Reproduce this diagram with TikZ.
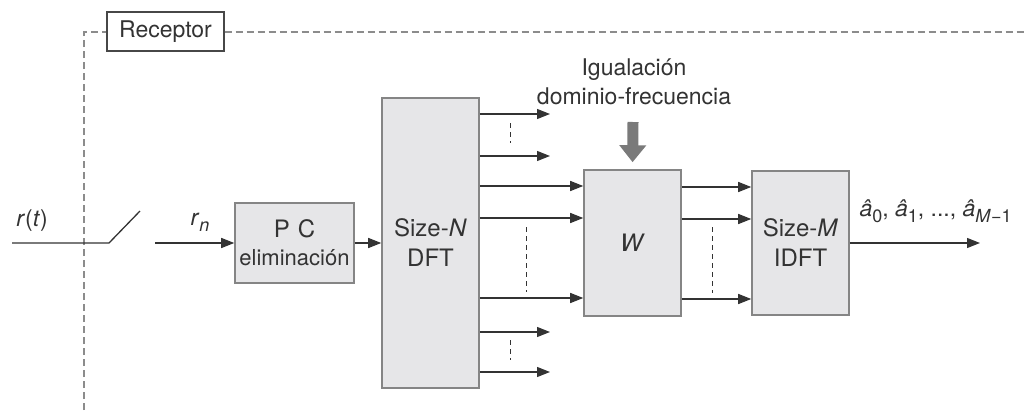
\documentclass[tikz,border=0pt]{standalone}
\usepackage{fontspec}
\setmainfont{TeX Gyre Heros}
\usetikzlibrary{arrows.meta,positioning,calc}
\definecolor{rxink}{HTML}{333333}
\definecolor{rxedge}{HTML}{858585}
\definecolor{rxfill}{HTML}{E6E6E8}
\definecolor{rxgray}{HTML}{7A7A7A}
\definecolor{rxdash}{HTML}{8C8C8C}
\newcommand{\lowidx}[1]{\raisebox{-6pt}{\fontsize{18}{20}\selectfont #1}}

\tikzset{
  blockbox/.style={draw=rxedge, fill=rxfill, line width=1.6pt, inner sep=0pt, align=center,
    font=\fontsize{24}{30}\selectfont, text=rxink},
  sig/.style={draw=rxink, line width=1.3pt, -{Triangle[length=13pt,width=10pt]}},
  wire/.style={draw=rxink, line width=1.3pt},
  gap/.style={draw=rxink, line width=0.9pt, dash pattern=on 5pt off 4pt},
  frame/.style={draw=rxdash, line width=1.3pt, dash pattern=on 7pt off 4pt}
}

\begin{document}
\begin{tikzpicture}[x=1pt, y=-1pt, font=\fontsize{23}{28}\selectfont, text=rxink]
  \useasboundingbox[fill=white] (0,0) rectangle (1030,410);

  % receiver frame
  \node[draw=rxink!90, line width=1.3pt, fill=white, minimum width=117pt, minimum height=39pt, inner sep=0pt] (rx) at (165.5,31.5) {Receptor};
  \coordinate (fbot) at (84,410);
  \coordinate (fcor) at (84,32);
  \coordinate (fend) at (1025,32);
  \draw[frame] (fbot) -- (fcor) -- (fcor -| rx.west);
  \draw[frame] (rx.east |- fend) -- (fend);

  % blocks
  \node[blockbox, minimum width=119pt, minimum height=80pt] (pc) at (294.5,243)
    {P\,\,C\\[-2pt]{\fontsize{22}{24}\selectfont eliminación}};
  \node[blockbox, minimum width=97pt, minimum height=290pt] (dft) at (430.5,243) {Size-\textit{N}\\DFT};
  \node[blockbox, minimum width=97pt, minimum height=146pt] (eq) at (632.5,243) {\textit{W}};
  \node[blockbox, minimum width=97pt, minimum height=144pt] (idft) at (800.5,243) {Size-\textit{M}\\IDFT};

  % input and sampler
  \coordinate (rin) at (12,243);
  \coordinate (sw1) at (109,243);
  \coordinate (sw2) at (140,211);
  \coordinate (sw3) at (155,243);
  \draw[wire] (rin) -- (sw1) -- (sw2);
  \draw[sig] (sw3) -- (pc.west);
  \node (lrt) at (32,221) {\textit{r}(\textit{t})};
  \node (lrn) at (200,222) {\textit{r}\lowidx{\textit{n}}};
  \draw[sig] (pc.east) -- (dft.west);

  % DFT outputs
  \foreach \y in {114,156,332,372} {
    \coordinate (t\y) at (550,\y);
    \draw[sig] (dft.east |- t\y) -- (t\y);
  }
  \foreach \y in {186,218,298} {
    \coordinate (u\y) at (584,\y);
    \draw[sig] (dft.east |- u\y) -- (eq.west |- u\y);
  }
  \draw[gap] (510,123) -- (510,143);
  \draw[gap] (510,340) -- (510,360);
  \draw[gap] (526,227) -- (526,292);

  % equalizer outputs
  \foreach \y in {187,219,299} {
    \coordinate (v\y) at (752,\y);
    \draw[sig] (eq.east |- v\y) -- (idft.west |- v\y);
  }
  \draw[gap] (712,227) -- (712,293);

  % equalizer control
  \node[align=center, font=\fontsize{23}{29}\selectfont] (lbl) at (634,82) {Igualación\\dominio-frecuencia};
  \coordinate (wtop) at (633,122);
  \draw[rxgray, line width=11pt, -{Triangle[length=17pt,width=26pt]}, shorten >=7pt] (wtop) -- (eq.north);

  % output
  \coordinate (aout) at (980,243);
  \draw[sig] (idft.east) -- (aout);
  \node[anchor=west] (lout) at (856,211)
    {\textit{â}\lowidx{0}, \textit{â}\lowidx{1}, ..., \textit{â}\lowidx{\textit{M}−1}};
\end{tikzpicture}
\end{document}
